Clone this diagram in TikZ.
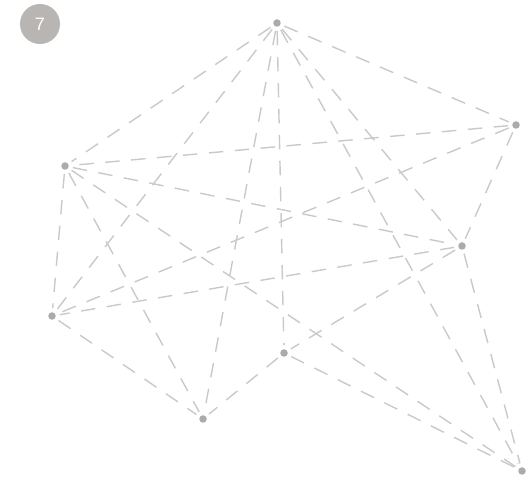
\documentclass[tikz,border=0pt]{standalone}
\usepackage{fontspec}
\setmainfont{Liberation Sans}
\definecolor{badgegray}{HTML}{B8B5B3}
\definecolor{dotgray}{HTML}{ABABAB}
\definecolor{linegray}{HTML}{C9C9C9}
\begin{document}
\begin{tikzpicture}[x=1pt,y=-1pt,
  dot/.style={circle,fill=dotgray,inner sep=0pt,minimum size=7.5pt},
  edge/.style={draw=linegray,line width=1.4pt,dash pattern=on 14.5pt off 11.5pt,shorten <=4pt,shorten >=4pt},
  badge/.style={circle,fill=badgegray,draw=none,minimum size=40pt,inner sep=0pt,text=white,font=\fontsize{18}{18}\selectfont}]
\useasboundingbox (0,0) rectangle (531,478);
\node[badge] (badge) at (40,24) {7};
\node[dot] (A) at (277,23) {};
\node[dot] (B) at (516,125) {};
\node[dot] (C) at (65,166) {};
\node[dot] (D) at (462,246) {};
\node[dot] (E) at (52,316) {};
\node[dot] (F) at (284,353) {};
\node[dot] (G) at (203,419) {};
\node[dot] (H) at (522,471) {};
\foreach \u/\v in {A/B,A/C,A/D,A/E,A/F,A/G,A/H,B/C,B/D,B/E,C/D,C/E,C/G,C/H,D/E,D/F,D/H,E/G,F/G,F/H}
  \draw[edge] (\u) -- (\v);
\end{tikzpicture}
\end{document}
